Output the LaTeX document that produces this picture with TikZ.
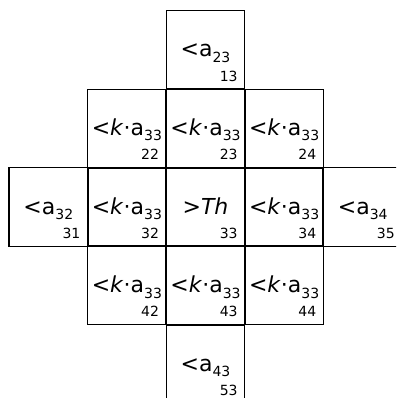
\documentclass[tikz,border=0pt]{standalone}
\usepackage{fontspec}
\setmainfont{DejaVu Sans}
\newcommand\mysub[1]{\raisebox{-0.25em}{\fontsize{14}{14}\selectfont #1}}
\newcommand\ka[1]{<\textit{k}·a\mysub{#1}}
\tikzset{
  cellbox/.style={draw, line width=1.1pt, minimum size=78.6pt, inner sep=0pt, outer sep=0pt},
  maintext/.style={font=\fontsize{22}{22}\selectfont, inner sep=0pt, anchor=base},
  idxtext/.style={font=\fontsize{14}{14}\selectfont, inner sep=0pt, anchor=base east},
  shared/.style={line width=2pt}
}
\newcommand\mkcell[4]{% name, x, y, text ; label = name digits
  \node[cellbox] (c#1) at (#2,#3) {};
  \node[maintext] (t#1) at ([yshift=-7pt]c#1.center) {#4};
  \node[idxtext] (n#1) at ([xshift=-7pt,yshift=8pt]c#1.south east) {#1};
}
\begin{document}
\begin{tikzpicture}[x=1pt,y=-1pt]
\useasboundingbox (0,0) rectangle (396,398);
\clip (0,0) rectangle (396,398);
\mkcell{13}{205.5}{49.8}{<a\mysub{23}}
\mkcell{22}{126.9}{128.4}{\ka{33}}
\mkcell{23}{205.5}{128.4}{\ka{33}}
\mkcell{24}{284.1}{128.4}{\ka{33}}
\mkcell{31}{48.3}{207}{<a\mysub{32}}
\mkcell{32}{126.9}{207}{\ka{33}}
\mkcell{33}{205.5}{207}{>\textit{Th}}
\mkcell{34}{284.1}{207}{\ka{33}}
\mkcell{35}{362.7}{207}{<a\mysub{34}}
\mkcell{42}{126.9}{285.6}{\ka{33}}
\mkcell{43}{205.5}{285.6}{\ka{33}}
\mkcell{44}{284.1}{285.6}{\ka{33}}
\mkcell{53}{205.5}{364.2}{<a\mysub{43}}
% shared edges
\draw[shared] (c13.south west) -- (c13.south east);
\draw[shared] (c22.north east) -- (c22.south east);
\draw[shared] (c23.north east) -- (c23.south east);
\draw[shared] (c22.south west) -- (c24.south east);
\draw[shared] (c31.north east) -- (c31.south east);
\draw[shared] (c32.north east) -- (c32.south east);
\draw[shared] (c33.north east) -- (c33.south east);
\draw[shared] (c34.north east) -- (c34.south east);
\draw[shared] (c32.south west) -- (c34.south east);
\draw[shared] (c42.north east) -- (c42.south east);
\draw[shared] (c43.north east) -- (c43.south east);
\draw[shared] (c43.south west) -- (c43.south east);
\end{tikzpicture}
\end{document}
